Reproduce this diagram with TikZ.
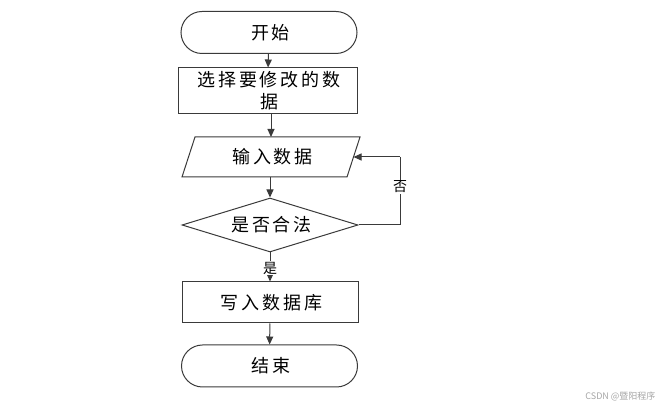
\documentclass[tikz,border=0pt]{standalone}
\usepackage{fontspec}
\newfontfamily\cjk{Noto Sans CJK SC}
\newfontfamily\cjkwide[LetterSpace=16]{Noto Sans CJK SC}
\usetikzlibrary{shapes.geometric,shapes.misc,arrows.meta}
\definecolor{lc}{HTML}{3A3A3A}
\tikzset{
  box/.style={draw=lc,line width=1pt,minimum width=176pt,minimum height=42pt,inner sep=0pt,align=center,font=\cjkwide\fontsize{18}{22}\selectfont},
  term/.style={box,rounded rectangle},
  dec/.style={box,diamond,aspect=3,minimum width=176pt,minimum height=54pt},
  arr/.style={draw=lc,line width=1pt,-{Triangle[length=8pt,width=7pt]}},
  lab/.style={font=\cjk\fontsize{14}{16}\selectfont,fill=white,inner sep=1pt}
}
\begin{document}
\begin{tikzpicture}[x=1pt,y=-1pt]
\useasboundingbox (0,0) rectangle (665,411);
\node[term] (start) at (269,32.5) {\hspace{3pt}开始};
\node[box,minimum height=46pt,minimum width=179pt] (sel) at (267.5,91) {\hspace{3pt}选择要修改的数\\\hspace{3pt}据};
\draw[lc,line width=1pt] (195,137) -- (360,137) -- (347,177) -- (182,177) -- cycle;
\node[font=\cjkwide\fontsize{18}{22}\selectfont] (inp) at (272.5,157) {输入数据};
\coordinate (inpT) at (271,137);
\coordinate (inpB) at (270,177);
\coordinate (inpR) at (353.5,157);
\node[dec] (chk) at (270,225) {\hspace{3pt}是否合法};
\coordinate (loopA) at (400,225);
\coordinate (loopB) at (400,157);
\node[box,minimum width=176pt,minimum height=41pt] (wr) at (270,302.5) {\hspace{3pt}写入数据库};
\node[term] (end) at (269.5,366) {\hspace{3pt}结束};
\draw[arr] (start) -- (sel);
\draw[arr] (sel.south -| inpT) -- (inpT);
\draw[arr] (inpB) -- (chk.north);
\draw[arr] (chk.south) -- (wr.north);
\node[lab] (yes) at (270,268) {是};
\draw[lc,line width=1pt] (chk.east) -- (loopA) -- (loopB);
\node[lab] (no) at (400,187) {否};
\draw[arr] (loopB) -- (inpR);
\draw[arr] (wr) -- (end);
\node[font=\fontsize{9}{11}\selectfont\cjk,text=gray!70,anchor=east] (wm) at (659,396) {CSDN @暨阳程序};
\end{tikzpicture}
\end{document}
